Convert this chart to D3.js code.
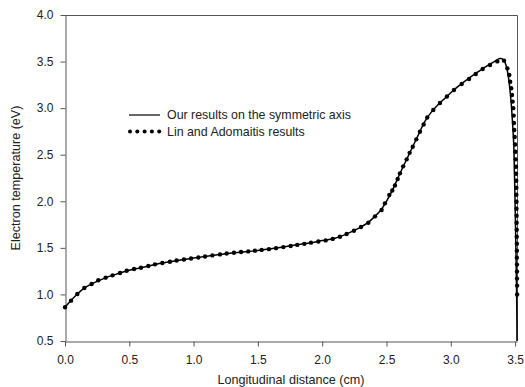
<!DOCTYPE html>
<html>
<head>
<meta charset="utf-8">
<script src="https://cdn.jsdelivr.net/npm/d3@7"></script>
<style>
  html, body { margin: 0; padding: 0; background: #fff; }
  svg { display: block; font-family: "Liberation Sans", Arial, sans-serif; }
</style>
</head>
<body>
<svg id="chart" width="525" height="387"></svg>
<script>
// ---- data ----
const xTicks = [0.0, 0.5, 1.0, 1.5, 2.0, 2.5, 3.0, 3.5];
const yTicks = [0.5, 1.0, 1.5, 2.0, 2.5, 3.0, 3.5, 4.0];
const xLabel = "Longitudinal distance (cm)";
const yLabel = "Electron temperature (eV)";
const seriesNames = ["Our results on the symmetric axis", "Lin and Adomaitis results"];

// Our results (solid line)
const oursX = [0, 0.05, 0.1, 0.15, 0.2, 0.3, 0.4, 0.5, 0.6, 0.7, 0.8, 0.9, 1.0, 1.1, 1.2, 1.3, 1.4, 1.5, 1.6, 1.7, 1.8, 1.9, 2.0, 2.1, 2.2, 2.3, 2.35, 2.4, 2.45, 2.5, 2.55, 2.6, 2.65, 2.7, 2.75, 2.8, 2.85, 2.9, 2.95, 3.0, 3.05, 3.1, 3.15, 3.2, 3.25, 3.3, 3.35, 3.38, 3.41, 3.43, 3.45, 3.46, 3.47, 3.48, 3.49, 3.495, 3.5, 3.505, 3.51, 3.513, 3.515];
const oursY = [0.862, 0.94, 1.01, 1.068, 1.108, 1.17, 1.218, 1.26, 1.29, 1.322, 1.347, 1.37, 1.39, 1.41, 1.428, 1.445, 1.458, 1.472, 1.49, 1.51, 1.533, 1.553, 1.578, 1.603, 1.655, 1.722, 1.765, 1.825, 1.895, 2.0, 2.13, 2.285, 2.43, 2.575, 2.72, 2.86, 2.96, 3.035, 3.1, 3.165, 3.225, 3.28, 3.33, 3.378, 3.425, 3.468, 3.51, 3.532, 3.52, 3.46, 3.32, 3.2, 3.05, 2.85, 2.6, 2.3, 2.0, 1.6, 1.2, 0.9, 0.5];

// Lin and Adomaitis results (dots)
const linX = [0, 0.047, 0.096, 0.15, 0.207, 0.259, 0.316, 0.37, 0.428, 0.48, 0.537, 0.591, 0.648, 0.70, 0.757, 0.816, 0.868, 0.925, 0.98, 1.037, 1.089, 1.146, 1.205, 1.257, 1.314, 1.369, 1.425, 1.477, 1.529, 1.586, 1.641, 1.698, 1.755, 1.806, 1.861, 1.913, 1.97, 2.027, 2.082, 2.138, 2.19, 2.247, 2.302, 2.359, 2.411, 2.462, 2.488, 2.522, 2.545, 2.566, 2.587, 2.605, 2.63, 2.657, 2.68, 2.704, 2.732, 2.76, 2.789, 2.817, 2.864, 2.916, 2.97, 3.025, 3.085, 3.142, 3.194, 3.248, 3.305, 3.362, 3.414, 3.44, 3.455, 3.462, 3.47, 3.476, 3.481, 3.486, 3.489, 3.491, 3.494, 3.497, 3.5, 3.502, 3.505, 3.507, 3.508, 3.509, 3.51, 3.51, 3.511, 3.511, 3.512, 3.512, 3.513, 3.513, 3.514, 3.514, 3.514, 3.515, 3.515, 3.515, 3.516, 3.516];
const linY = [0.862, 0.933, 1.005, 1.069, 1.112, 1.152, 1.18, 1.205, 1.23, 1.255, 1.273, 1.287, 1.305, 1.323, 1.337, 1.351, 1.364, 1.375, 1.386, 1.397, 1.408, 1.419, 1.43, 1.44, 1.447, 1.455, 1.462, 1.47, 1.478, 1.486, 1.497, 1.508, 1.52, 1.532, 1.543, 1.556, 1.568, 1.58, 1.596, 1.62, 1.649, 1.684, 1.724, 1.77, 1.838, 1.906, 1.978, 2.068, 2.115, 2.17, 2.24, 2.30, 2.375, 2.45, 2.52, 2.586, 2.665, 2.747, 2.825, 2.90, 2.98, 3.055, 3.125, 3.195, 3.26, 3.313, 3.367, 3.42, 3.463, 3.502, 3.51, 3.427, 3.356, 3.284, 3.213, 3.141, 3.07, 3.0, 2.92, 2.84, 2.765, 2.69, 2.61, 2.532, 2.45, 2.371, 2.295, 2.22, 2.145, 2.07, 1.995, 1.92, 1.845, 1.77, 1.695, 1.62, 1.545, 1.47, 1.395, 1.32, 1.245, 1.17, 1.095, 1.0];

// ---- chart ----
const svg = d3.select("#chart");
const mLeft = 65, mRight = 517, mTop = 15, mBottom = 341;

const x = d3.scaleLinear().domain([0, 3.515]).range([mLeft, mRight]);
const y = d3.scaleLinear().domain([0.5, 4.0]).range([mBottom, mTop]);

const axisColor = "#555";
const textColor = "#222";

// frame (top and right)
svg.append("path")
  .attr("d", `M${mLeft},${mTop + 0.5}H${mRight + 0.5}V${mBottom}`)
  .attr("fill", "none").attr("stroke", axisColor).attr("stroke-width", 1);

// x axis
const gx = svg.append("g").attr("transform", `translate(0,${mBottom + 0.5})`)
  .call(d3.axisBottom(x).tickValues(xTicks).tickFormat(d3.format(".1f")).tickSize(5).tickSizeOuter(0).tickPadding(9));
gx.select(".domain").attr("stroke", axisColor);
gx.selectAll(".tick line").attr("stroke", axisColor);
gx.selectAll(".tick text").attr("fill", textColor).attr("font-size", 12)
  .attr("font-family", '"Liberation Sans", Arial, sans-serif');

// y axis
const gy = svg.append("g").attr("transform", `translate(${mLeft + 0.5},0)`)
  .call(d3.axisLeft(y).tickValues(yTicks).tickFormat(d3.format(".1f")).tickSize(5).tickSizeOuter(0).tickPadding(7));
gy.select(".domain").attr("stroke", axisColor);
gy.selectAll(".tick line").attr("stroke", axisColor);
gy.selectAll(".tick text").attr("fill", textColor).attr("font-size", 12)
  .attr("font-family", '"Liberation Sans", Arial, sans-serif');

// axis titles
svg.append("text").attr("x", (mLeft + mRight) / 2).attr("y", 384)
  .attr("text-anchor", "middle").attr("font-size", 12.6).attr("fill", textColor).text(xLabel);
svg.append("text").attr("transform", `translate(20,${(mTop + mBottom) / 2}) rotate(-90)`)
  .attr("text-anchor", "middle").attr("font-size", 12.6).attr("fill", textColor).text(yLabel);

// solid line
const oursData = oursX.map((d, i) => [d, oursY[i]]);
const line = d3.line().x(d => x(d[0])).y(d => y(d[1])).curve(d3.curveCatmullRom.alpha(0.5));
svg.append("path").datum(oursData)
  .attr("d", line).attr("fill", "none").attr("stroke", "#000").attr("stroke-width", 1.5);

// dots
const linData = linX.map((d, i) => [d, linY[i]]);
svg.append("g").selectAll("circle").data(linData).join("circle")
  .attr("cx", d => x(d[0])).attr("cy", d => y(d[1])).attr("r", 2.2).attr("fill", "#000");

// legend
const lg = svg.append("g");
const lx0 = 129, lx1 = 160, ly1 = 115, ly2 = 131.5;
lg.append("line").attr("x1", lx0).attr("x2", lx1).attr("y1", ly1).attr("y2", ly1)
  .attr("stroke", "#000").attr("stroke-width", 1.2);
lg.selectAll("circle").data(d3.range(5)).join("circle")
  .attr("cx", i => lx0 + 1 + i * 7.3).attr("cy", ly2).attr("r", 2).attr("fill", "#000");
lg.append("text").attr("x", 167).attr("y", ly1).attr("dy", "0.35em")
  .attr("font-size", 12.4).attr("fill", textColor).text(seriesNames[0]);
lg.append("text").attr("x", 167).attr("y", ly2).attr("dy", "0.35em")
  .attr("font-size", 12.4).attr("fill", textColor).text(seriesNames[1]);
</script>
</body>
</html>
